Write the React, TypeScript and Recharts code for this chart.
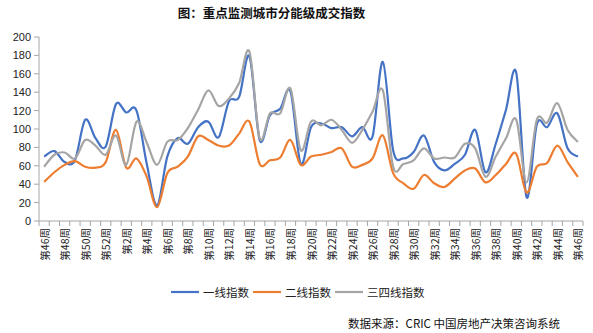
import React from 'react';
import { LineChart, Line, XAxis, YAxis } from 'recharts';

const weeks: string[] = [
  '第46周','第47周','第48周','第49周','第50周','第51周','第52周',
  '第1周','第2周','第3周','第4周','第5周','第6周','第7周','第8周','第9周','第10周',
  '第11周','第12周','第13周','第14周','第15周','第16周','第17周','第18周','第19周','第20周',
  '第21周','第22周','第23周','第24周','第25周','第26周','第27周','第28周','第29周','第30周',
  '第31周','第32周','第33周','第34周','第35周','第36周','第37周','第38周','第39周','第40周',
  '第41周','第42周','第43周','第44周','第45周','第46周',
];

const tier1: number[] = [
  70, 76, 64, 66, 110, 90, 81, 127, 118, 120, 62, 17, 70, 90, 84, 102, 108,
  91, 130, 135, 179, 88, 115, 122, 141, 62, 102, 106, 101, 102, 92, 102, 92,
  173, 77, 68, 75, 93, 64, 55, 62, 72, 99, 53, 84, 121, 161, 26, 105, 102, 117, 79, 70,
];

const tier2: number[] = [
  42.5, 53, 61, 65, 59, 58, 64, 99, 58, 68, 48, 15, 52, 59, 70, 92, 88,
  82, 82, 95, 108, 62, 66, 69, 88, 61, 70, 72, 75, 79, 59, 61, 68,
  93, 52, 41, 35, 50, 41, 37, 46, 55, 57, 42, 50, 62, 73, 31, 59, 63, 82, 64, 48,
];

const tier34: number[] = [
  59, 72, 74.5, 68, 88, 82, 72, 93, 61, 108, 85, 61, 86, 88, 101, 121, 142,
  125, 133, 150, 184, 90, 117, 117, 144, 77, 108, 104, 110, 99, 85, 99, 119,
  142, 59, 62, 66, 79, 68, 69, 69, 84, 79, 48, 70, 90, 110, 42, 110, 107, 128, 99, 86,
];

const yTicks: number[] = [0, 20, 40, 60, 80, 100, 120, 140, 160, 180, 200];

const seriesNames = ['一线指数', '二线指数', '三四线指数'];
const seriesColors = ['#4472C4', '#ED7D31', '#A5A5A5'];

const data = weeks.map((w, i) => ({
  week: w,
  t1: tier1[i],
  t2: tier2[i],
  t34: tier34[i],
}));

const W = 593;
const H = 333;
const M = { top: 37, right: 10, bottom: 52, left: 9 };
const Y_AXIS_W = 30;
const X_AXIS_H = 60;
const PLOT_W = W - M.left - M.right - Y_AXIS_W;
const AXIS_Y = H - M.bottom - X_AXIS_H;
const N = weeks.length;
const BW = PLOT_W / N;
const AXIS_COLOR = '#A6A6A6';

// Catmull-Rom style smoothing (similar to Excel smoothed lines)
function smoothCurve(context: any) {
  let pts: number[][] = [];
  return {
    areaStart() {},
    areaEnd() {},
    lineStart() {
      pts = [];
    },
    lineEnd() {
      if (!pts.length) return;
      context.moveTo(pts[0][0], pts[0][1]);
      for (let i = 0; i < pts.length - 1; i++) {
        const p0 = pts[i - 1] || pts[i];
        const p1 = pts[i];
        const p2 = pts[i + 1];
        const p3 = pts[i + 2] || p2;
        context.bezierCurveTo(
          p1[0] + (p2[0] - p0[0]) / 6,
          p1[1] + (p2[1] - p0[1]) / 6,
          p2[0] - (p3[0] - p1[0]) / 6,
          p2[1] - (p3[1] - p1[1]) / 6,
          p2[0],
          p2[1]
        );
      }
    },
    point(x: number, y: number) {
      pts.push([+x, +y]);
    },
  };
}

const XTick = (props: any) => {
  const { x, payload, index } = props;
  const left = x - BW / 2;
  const right = x + BW / 2;
  const showLabel = index % 2 === 0;
  return (
    <g>
      <line x1={left} x2={left} y1={AXIS_Y} y2={AXIS_Y + 5} stroke={AXIS_COLOR} strokeWidth={1} />
      {index === N - 1 && (
        <line x1={right} x2={right} y1={AXIS_Y} y2={AXIS_Y + 5} stroke={AXIS_COLOR} strokeWidth={1} />
      )}
      {showLabel && (
        <text
          x={x}
          y={AXIS_Y + 7}
          transform={`rotate(-90, ${x}, ${AXIS_Y + 7})`}
          textAnchor="end"
          dominantBaseline="central"
          fontSize={10.5}
          fontFamily="'Noto Sans CJK SC', sans-serif"
          fill="#222"
        >
          {payload.value}
        </text>
      )}
    </g>
  );
};

export default function App() {
  return (
    <div style={{ position: 'absolute', left: 0, top: 0, width: W, height: H, background: '#fff' }}>
      <div
        style={{
          position: 'absolute',
          left: 0,
          width: W - 50,
          top: 4,
          textAlign: 'center',
          fontFamily: "'Noto Sans CJK SC', sans-serif",
          fontWeight: 700,
          fontSize: 12.5,
          lineHeight: '18px',
          color: '#111',
        }}
      >
        图：重点监测城市分能级成交指数
      </div>
      <LineChart width={W} height={H} data={data} margin={M}>
        <XAxis
          dataKey="week"
          interval={0}
          height={X_AXIS_H}
          tickLine={false}
          axisLine={{ stroke: AXIS_COLOR }}
          tick={<XTick />}
          padding={{ left: BW / 2, right: BW / 2 }}
        />
        <YAxis
          width={Y_AXIS_W}
          domain={[0, 200]}
          ticks={yTicks}
          interval={0}
          tickSize={5}
          tickMargin={3}
          axisLine={{ stroke: AXIS_COLOR }}
          tickLine={{ stroke: AXIS_COLOR }}
          tick={{ fontSize: 11, fill: '#222', fontFamily: "'Liberation Sans', Arial, sans-serif" }}
        />
        <Line dataKey="t1" name={seriesNames[0]} stroke={seriesColors[0]} strokeWidth={2.2} dot={false} type={smoothCurve as any} isAnimationActive={false} />
        <Line dataKey="t2" name={seriesNames[1]} stroke={seriesColors[1]} strokeWidth={2.2} dot={false} type={smoothCurve as any} isAnimationActive={false} />
        <Line dataKey="t34" name={seriesNames[2]} stroke={seriesColors[2]} strokeWidth={2.2} dot={false} type={smoothCurve as any} isAnimationActive={false} />
      </LineChart>
      <div
        style={{
          position: 'absolute',
          left: 171,
          top: 283,
          display: 'flex',
          alignItems: 'center',
          fontFamily: "'Noto Sans CJK SC', sans-serif",
          fontSize: 11.5,
          color: '#222',
          lineHeight: '18px',
        }}
      >
        {seriesNames.map((n, i) => (
          <div key={n} style={{ display: 'flex', alignItems: 'center', marginRight: 4 }}>
            <svg width={28} height={6} style={{ marginRight: 4 }}>
              <line x1={0} x2={28} y1={3} y2={3} stroke={seriesColors[i]} strokeWidth={2.2} />
            </svg>
            <span>{n}</span>
          </div>
        ))}
      </div>
      <div
        style={{
          position: 'absolute',
          left: 300,
          width: 260,
          top: 314,
          textAlign: 'right',
          fontFamily: "'Noto Sans CJK SC', sans-serif",
          fontSize: 11.5,
          lineHeight: '18px',
          color: '#111',
        }}
      >
        数据来源：CRIC 中国房地产决策咨询系统
      </div>
    </div>
  );
}
